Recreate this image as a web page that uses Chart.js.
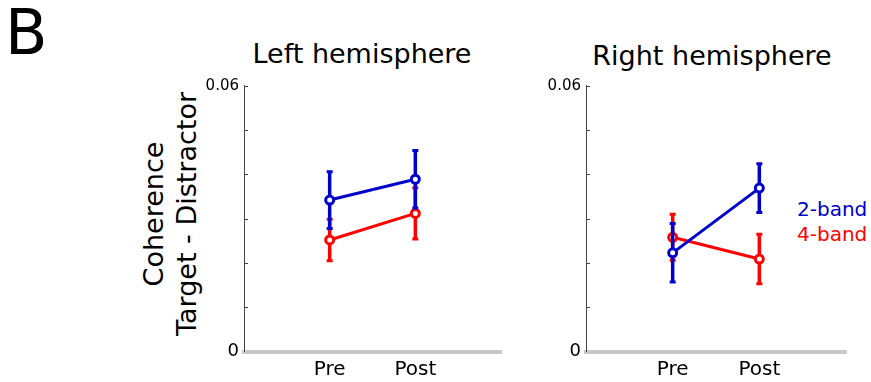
<!DOCTYPE html>
<html>
<head>
<meta charset="utf-8">
<script src="https://cdn.jsdelivr.net/npm/chart.js@4"></script>
<style>
  body { margin: 0; background: #fff; width: 871px; height: 382px; overflow: hidden; position: relative; font-family: "DejaVu Sans", sans-serif; }
  .txt { position: absolute; line-height: 1; white-space: nowrap; color: #000; }
  canvas { position: absolute; }
</style>
</head>
<body>
<div class="txt" style="left:5px; top:2px; font-size:62px;">B</div>
<div class="txt" style="left:212px; top:40.2px; width:300px; text-align:center; font-size:27px;">Left hemisphere</div>
<div class="txt" style="left:562px; top:42px; width:300px; text-align:center; font-size:27px;">Right hemisphere</div>
<div class="txt" style="left:20px; top:181px; width:300px; height:66px; line-height:33px; text-align:center; font-size:27px; transform:rotate(-90deg);">Coherence<br>Target - Distractor</div>
<div class="txt" style="left:797px; top:198.8px; font-size:20px; color:#0000cc;">2-band</div>
<div class="txt" style="left:797px; top:224px; font-size:20px; color:#ff0000;">4-band</div>

<canvas id="leftChart" width="320" height="322" style="left:190px; top:60px;"></canvas>
<canvas id="rightChart" width="320" height="322" style="left:540px; top:60px;"></canvas>

<script>
// --- Data ---
const categories = ['Pre', 'Post'];
const yTickLabels = [0, 0.06];

const left2Band = [0.0342, 0.0389];
const left2Err = [0.0064, 0.0065];
const left4Band = [0.0252, 0.0312];
const left4Err = [0.0047, 0.0058];

const right2Band = [0.0223, 0.0369];
const right2Err = [0.0066, 0.0055];
const right4Band = [0.0258, 0.0209];
const right4Err = [0.0052, 0.0056];

const BLUE = '#0000cc';
const RED = '#ff0000';
const FONT = 'DejaVu Sans';

// error bars drawn right before each dataset so later series cover earlier ones
const errorBars = {
    id: 'errorBars',
    beforeDatasetDraw(chart, args) {
        const ds = chart.data.datasets[args.index];
        const y = chart.scales.y;
        const ctx = chart.ctx;
        ctx.save();
        ctx.strokeStyle = ds.borderColor;
        ctx.lineCap = 'butt';
        args.meta.data.forEach((pt, i) => {
            const v = ds.data[i].y;
            const top = y.getPixelForValue(v + ds.err[i]);
            const bot = y.getPixelForValue(v - ds.err[i]);
            ctx.lineWidth = 3.5;
            ctx.beginPath();
            ctx.moveTo(pt.x, top);
            ctx.lineTo(pt.x, bot);
            ctx.stroke();
            ctx.lineWidth = 3;
            ctx.beginPath();
            ctx.moveTo(pt.x - 3, top);
            ctx.lineTo(pt.x + 3, top);
            ctx.moveTo(pt.x - 3, bot);
            ctx.lineTo(pt.x + 3, bot);
            ctx.stroke();
        });
        ctx.restore();
    }
};

// small tick marks pointing into the plot
const innerTicks = {
    id: 'innerTicks',
    afterDraw(chart) {
        const y = chart.scales.y;
        const ctx = chart.ctx;
        const x0 = chart.chartArea.left;
        ctx.save();
        ctx.strokeStyle = '#444';
        ctx.lineWidth = 1;
        y.ticks.forEach(t => {
            if (t.value <= 0) return;
            const py = Math.round(y.getPixelForValue(t.value)) + 0.5;
            ctx.beginPath();
            ctx.moveTo(x0, py);
            ctx.lineTo(x0 + 4, py);
            ctx.stroke();
        });
        ctx.restore();
    }
};

function series(values) {
    return values.map((v, i) => ({ x: i + 1, y: v }));
}

function makePanel(id, twoBand, twoErr, fourBand, fourErr, yWidth, padRight) {
    const ctx = document.getElementById(id).getContext('2d');
    const common = {
        showLine: true,
        borderWidth: 3,
        pointRadius: 4,
        pointBorderWidth: 3,
        pointBackgroundColor: '#fff'
    };
    return new Chart(ctx, {
        type: 'scatter',
        data: {
            datasets: [
                { ...common, label: '2-band', data: series(twoBand), err: twoErr, borderColor: BLUE, pointBorderColor: BLUE },
                { ...common, label: '4-band', data: series(fourBand), err: fourErr, borderColor: RED, pointBorderColor: RED }
            ]
        },
        options: {
            responsive: false,
            animation: false,
            events: [],
            layout: { padding: { top: 25.7, right: padRight, bottom: 0, left: 0 } },
            plugins: { legend: { display: false }, tooltip: { enabled: false } },
            scales: {
                x: {
                    type: 'linear',
                    min: 0,
                    max: 3,
                    grid: { display: false, drawTicks: false },
                    border: { display: true, color: '#c8c8c8', width: 4 },
                    afterBuildTicks: s => { s.ticks = categories.map((c, i) => ({ value: i + 1 })); },
                    afterFit: s => { s.height = 30.3; },
                    ticks: {
                        padding: 6,
                        color: '#000',
                        font: { family: FONT, size: 20 },
                        callback: v => categories[v - 1]
                    }
                },
                y: {
                    min: 0,
                    max: 0.06,
                    grid: { display: false, drawTicks: false },
                    border: { display: true, color: '#444', width: 1 },
                    afterFit: s => { s.width = yWidth; },
                    ticks: {
                        stepSize: 0.01,
                        padding: 5,
                        color: '#000',
                        font: c => ({ family: FONT, size: (c.tick && c.tick.value === 0) ? 18 : 15 }),
                        callback: v => yTickLabels.some(t => Math.abs(t - v) < 1e-9) ? String(Math.round(v * 100) / 100) : ''
                    }
                }
            }
        },
        plugins: [errorBars, innerTicks]
    });
}

makePanel('leftChart', left2Band, left2Err, left4Band, left4Err, 54, 9);
makePanel('rightChart', right2Band, right2Err, right4Band, right4Err, 46, 14);
</script>
</body>
</html>
